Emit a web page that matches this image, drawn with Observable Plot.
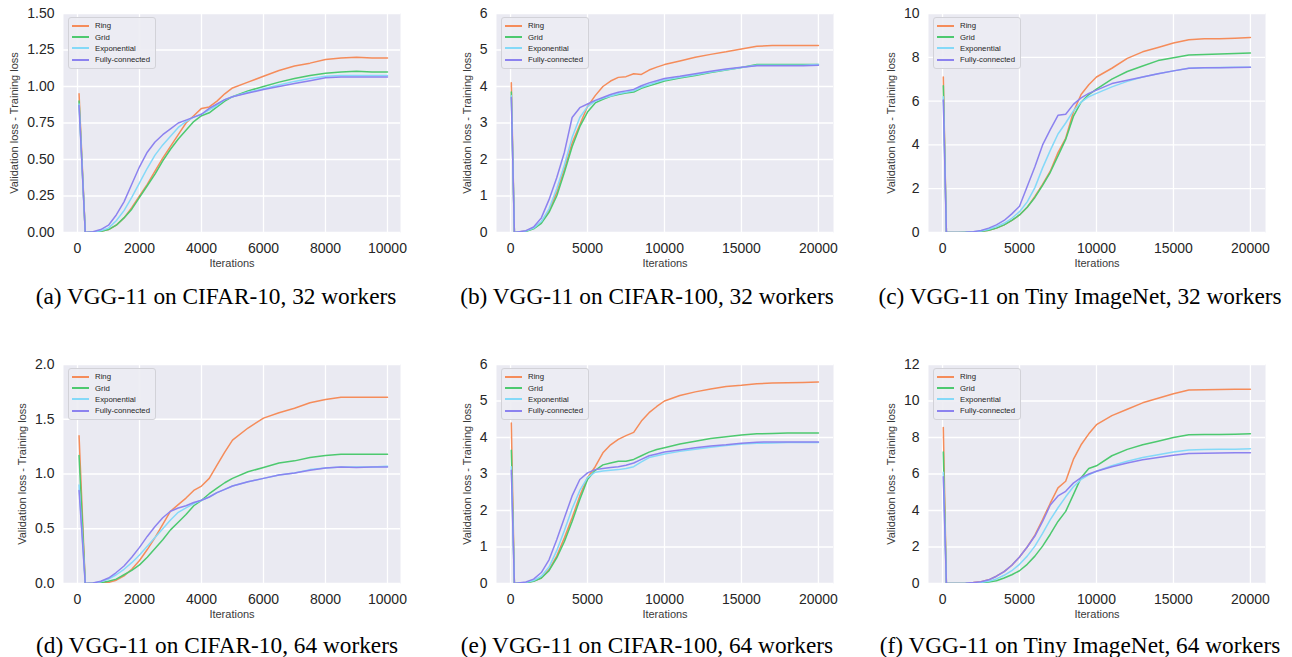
<!DOCTYPE html>
<html>
<head>
<meta charset="utf-8">
<script src="https://cdn.jsdelivr.net/npm/d3@7"></script>
<script src="https://cdn.jsdelivr.net/npm/@observablehq/plot@0.6"></script>
<style>
  html, body { margin: 0; padding: 0; background: #fff; }
  #root { position: relative; width: 1292px; height: 657px; overflow: hidden; }
  .panel { position: absolute; }
  .legend { position: absolute; box-sizing: border-box; border: 1px solid #d2d2d8; border-radius: 3px;
            background: rgba(236,236,243,0.9); padding: 2px 5px 2px 3px;
            font-family: "Liberation Sans", Arial, sans-serif; font-size: 7.8px; color: #262626; }
  .legend .row { height: 11.4px; display: flex; align-items: center; white-space: nowrap; }
  .legend .sw { display: inline-block; width: 17px; height: 0; border-top: 2px solid; margin-right: 6px; }
  .caption { position: absolute; width: 460px; text-align: center; font-family: "Liberation Serif", "Times New Roman", serif;
             font-size: 23.3px; line-height: 26px; color: #000; white-space: nowrap; }
</style>
</head>
<body>
<div id="root"></div>
<script>
// ---------------- data ----------------
const names = ["Ring", "Grid", "Exponential", "Fully-connected"];
const colors = ["#f58c5a", "#4dc96f", "#84d9f8", "#8c82ef"];

const captions = [
  "(a) VGG-11 on CIFAR-10, 32 workers",
  "(b) VGG-11 on CIFAR-100, 32 workers",
  "(c) VGG-11 on Tiny ImageNet, 32 workers",
  "(d) VGG-11 on CIFAR-10, 64 workers",
  "(e) VGG-11 on CIFAR-100, 64 workers",
  "(f) VGG-11 on Tiny ImageNet, 64 workers"
];

// iterations for CIFAR-10 runs (10000 iterations)
const itersShort = [50, 250, 500, 750, 1000, 1250, 1500, 1750, 2000, 2250, 2500, 2750, 3000, 3250, 3500, 3750, 4000, 4250, 4500, 4750, 5000, 5500, 6000, 6500, 7000, 7500, 8000, 8500, 9000, 9500, 10000];
// iterations for CIFAR-100 / Tiny ImageNet runs (20000 iterations)
const itersLong = [50, 250, 1000, 1500, 2000, 2500, 3000, 3500, 4000, 4500, 5000, 5500, 6000, 6500, 7000, 7500, 8000, 8500, 9000, 9500, 10000, 11000, 12000, 13000, 14000, 15000, 16000, 17000, 18000, 19000, 20000];

// (a) CIFAR-10, 32 workers
const aRing = [0.95, 0, 0.003, 0.008, 0.02, 0.05, 0.10, 0.17, 0.25, 0.33, 0.42, 0.51, 0.59, 0.67, 0.75, 0.80, 0.85, 0.86, 0.90, 0.95, 0.99, 1.03, 1.07, 1.11, 1.14, 1.16, 1.185, 1.195, 1.20, 1.195, 1.195];
const aGrid = [0.90, 0, 0.003, 0.008, 0.02, 0.05, 0.10, 0.16, 0.24, 0.32, 0.40, 0.49, 0.57, 0.64, 0.70, 0.76, 0.80, 0.82, 0.86, 0.90, 0.93, 0.97, 1.00, 1.03, 1.055, 1.075, 1.09, 1.10, 1.105, 1.10, 1.10];
const aExp  = [0.88, 0, 0.004, 0.012, 0.03, 0.08, 0.15, 0.24, 0.34, 0.44, 0.53, 0.60, 0.66, 0.72, 0.76, 0.79, 0.81, 0.84, 0.87, 0.91, 0.93, 0.96, 0.985, 1.01, 1.035, 1.055, 1.07, 1.075, 1.075, 1.075, 1.075];
const aFC   = [0.87, 0, 0.005, 0.02, 0.05, 0.12, 0.21, 0.33, 0.45, 0.55, 0.62, 0.67, 0.71, 0.75, 0.77, 0.79, 0.81, 0.85, 0.88, 0.91, 0.93, 0.955, 0.98, 1.00, 1.02, 1.04, 1.06, 1.065, 1.065, 1.065, 1.065];

// (b) CIFAR-100, 32 workers
const bRing = [4.10, 0, 0.04, 0.12, 0.28, 0.60, 1.10, 1.75, 2.45, 2.95, 3.45, 3.75, 4.00, 4.15, 4.25, 4.27, 4.35, 4.33, 4.45, 4.53, 4.60, 4.70, 4.80, 4.88, 4.95, 5.03, 5.10, 5.12, 5.12, 5.12, 5.12];
const bGrid = [3.85, 0, 0.03, 0.10, 0.25, 0.55, 1.00, 1.65, 2.35, 2.90, 3.30, 3.55, 3.65, 3.73, 3.78, 3.82, 3.85, 3.95, 4.02, 4.08, 4.15, 4.23, 4.30, 4.38, 4.45, 4.52, 4.60, 4.60, 4.60, 4.60, 4.60];
const bExp  = [3.75, 0, 0.04, 0.12, 0.30, 0.65, 1.20, 1.85, 2.60, 3.15, 3.45, 3.60, 3.68, 3.74, 3.80, 3.84, 3.88, 3.98, 4.05, 4.12, 4.18, 4.25, 4.32, 4.40, 4.46, 4.52, 4.58, 4.58, 4.58, 4.58, 4.60];
const bFC   = [3.70, 0, 0.05, 0.15, 0.40, 0.90, 1.50, 2.20, 3.15, 3.42, 3.52, 3.62, 3.70, 3.78, 3.84, 3.88, 3.92, 4.02, 4.10, 4.16, 4.22, 4.28, 4.35, 4.42, 4.48, 4.53, 4.57, 4.57, 4.57, 4.57, 4.58];

// (c) Tiny ImageNet, 32 workers
const cRing = [7.10, 0, 0.0, 0.01, 0.03, 0.05, 0.10, 0.20, 0.35, 0.55, 0.80, 1.15, 1.65, 2.20, 2.80, 3.65, 4.30, 5.50, 6.30, 6.75, 7.10, 7.50, 7.95, 8.25, 8.45, 8.65, 8.80, 8.85, 8.85, 8.87, 8.90];
const cGrid = [6.70, 0, 0.0, 0.01, 0.02, 0.05, 0.10, 0.20, 0.35, 0.55, 0.80, 1.15, 1.60, 2.15, 2.75, 3.50, 4.25, 5.30, 5.95, 6.30, 6.55, 7.00, 7.35, 7.60, 7.85, 7.98, 8.10, 8.13, 8.15, 8.17, 8.20];
const cExp  = [6.20, 0, 0.0, 0.01, 0.03, 0.07, 0.15, 0.27, 0.42, 0.65, 0.95, 1.40, 2.05, 2.95, 3.75, 4.50, 5.00, 5.55, 5.95, 6.20, 6.35, 6.65, 6.90, 7.10, 7.25, 7.38, 7.50, 7.52, 7.53, 7.54, 7.55];
const cFC   = [6.05, 0, 0.0, 0.01, 0.04, 0.09, 0.20, 0.35, 0.55, 0.85, 1.20, 2.10, 3.00, 4.00, 4.70, 5.35, 5.40, 5.85, 6.15, 6.35, 6.50, 6.80, 6.95, 7.10, 7.25, 7.38, 7.50, 7.52, 7.52, 7.53, 7.55];

// (d) CIFAR-10, 64 workers
const dRing = [1.35, 0, 0.002, 0.005, 0.01, 0.03, 0.07, 0.13, 0.21, 0.31, 0.42, 0.54, 0.66, 0.72, 0.78, 0.85, 0.89, 0.96, 1.08, 1.20, 1.31, 1.42, 1.51, 1.56, 1.60, 1.65, 1.68, 1.70, 1.70, 1.70, 1.70];
const dGrid = [1.17, 0, 0.003, 0.008, 0.02, 0.04, 0.08, 0.12, 0.17, 0.24, 0.32, 0.40, 0.49, 0.56, 0.63, 0.71, 0.76, 0.82, 0.87, 0.92, 0.96, 1.02, 1.06, 1.10, 1.12, 1.15, 1.17, 1.18, 1.18, 1.18, 1.18];
const dExp  = [0.90, 0, 0.004, 0.015, 0.04, 0.08, 0.13, 0.19, 0.26, 0.34, 0.42, 0.50, 0.58, 0.65, 0.69, 0.73, 0.76, 0.79, 0.83, 0.86, 0.89, 0.93, 0.96, 0.99, 1.01, 1.04, 1.055, 1.065, 1.065, 1.065, 1.07];
const dFC   = [0.85, 0, 0.005, 0.02, 0.05, 0.10, 0.16, 0.24, 0.33, 0.43, 0.52, 0.60, 0.66, 0.69, 0.71, 0.74, 0.76, 0.79, 0.83, 0.86, 0.89, 0.93, 0.96, 0.99, 1.01, 1.035, 1.055, 1.065, 1.06, 1.065, 1.065];

// (e) CIFAR-100, 64 workers
const eRing = [4.40, 0, 0.03, 0.07, 0.15, 0.38, 0.75, 1.25, 1.80, 2.40, 2.90, 3.20, 3.58, 3.80, 3.95, 4.05, 4.14, 4.45, 4.68, 4.85, 5.00, 5.15, 5.25, 5.33, 5.40, 5.43, 5.47, 5.49, 5.50, 5.51, 5.52];
const eGrid = [3.65, 0, 0.02, 0.06, 0.15, 0.35, 0.70, 1.15, 1.70, 2.30, 2.85, 3.10, 3.25, 3.30, 3.35, 3.35, 3.40, 3.50, 3.60, 3.67, 3.72, 3.82, 3.90, 3.97, 4.02, 4.07, 4.10, 4.11, 4.12, 4.12, 4.12];
const eExp  = [3.20, 0, 0.03, 0.08, 0.20, 0.45, 0.90, 1.45, 2.05, 2.55, 2.90, 3.05, 3.08, 3.10, 3.12, 3.15, 3.20, 3.33, 3.45, 3.50, 3.55, 3.62, 3.68, 3.73, 3.78, 3.82, 3.84, 3.85, 3.86, 3.86, 3.86];
const eFC   = [3.10, 0, 0.04, 0.12, 0.30, 0.65, 1.20, 1.80, 2.40, 2.85, 3.03, 3.12, 3.15, 3.18, 3.20, 3.24, 3.30, 3.40, 3.50, 3.55, 3.60, 3.66, 3.72, 3.77, 3.80, 3.84, 3.87, 3.88, 3.88, 3.88, 3.88];

// (f) Tiny ImageNet, 64 workers
const fRing = [8.55, 0, 0.0, 0.01, 0.05, 0.10, 0.20, 0.40, 0.65, 1.00, 1.45, 2.00, 2.65, 3.50, 4.40, 5.24, 5.60, 6.80, 7.60, 8.20, 8.70, 9.20, 9.55, 9.90, 10.15, 10.40, 10.60, 10.62, 10.63, 10.64, 10.65];
const fGrid = [7.20, 0, 0.0, 0.0, 0.02, 0.04, 0.08, 0.15, 0.30, 0.48, 0.70, 1.05, 1.50, 2.05, 2.70, 3.40, 3.95, 4.87, 5.80, 6.30, 6.45, 7.00, 7.35, 7.60, 7.80, 8.00, 8.15, 8.16, 8.17, 8.18, 8.20];
const fExp  = [6.10, 0, 0.0, 0.01, 0.03, 0.06, 0.12, 0.25, 0.45, 0.70, 1.05, 1.50, 2.05, 2.75, 3.50, 4.15, 4.75, 5.30, 5.70, 5.95, 6.15, 6.45, 6.70, 6.90, 7.05, 7.20, 7.32, 7.34, 7.35, 7.36, 7.38];
const fFC   = [5.85, 0, 0.0, 0.01, 0.05, 0.10, 0.20, 0.40, 0.65, 1.00, 1.45, 2.00, 2.60, 3.40, 4.30, 4.80, 5.05, 5.50, 5.80, 6.00, 6.15, 6.40, 6.60, 6.78, 6.90, 7.03, 7.12, 7.14, 7.15, 7.16, 7.17];

// tick values
const xTicksShort = [0, 2000, 4000, 6000, 8000, 10000];
const xTicksLong = [0, 5000, 10000, 15000, 20000];
const yTicksA = [0, 0.25, 0.5, 0.75, 1.0, 1.25, 1.5];
const yTicksB = [0, 1, 2, 3, 4, 5, 6];
const yTicksC = [0, 2, 4, 6, 8, 10];
const yTicksD = [0, 0.5, 1.0, 1.5, 2.0];
const yTicksE = [0, 1, 2, 3, 4, 5, 6];
const yTicksF = [0, 2, 4, 6, 8, 10, 12];

// ---------------- layout ----------------
const PW = 337, PH = 219, ML = 60, MT = 10, MR = 10, MB = 45;

const panels = [
  {left: 63,  top: 13,  x: itersShort, s: [aRing, aGrid, aExp, aFC], yd: [0, 1.5], xd: [-452, 10420], yt: yTicksA, xt: xTicksShort, yf: ".2f", ylab: -49, cap: 216, capY: 296},
  {left: 496, top: 13,  x: itersLong,  s: [bRing, bGrid, bExp, bFC], yd: [0, 6],   xd: [-912, 20980], yt: yTicksB, xt: xTicksLong,  yf: "d",   ylab: -29, cap: 647, capY: 296},
  {left: 928, top: 13,  x: itersLong,  s: [cRing, cGrid, cExp, cFC], yd: [0, 10],  xd: [-912, 20980], yt: yTicksC, xt: xTicksLong,  yf: "d",   ylab: -37, cap: 1080, capY: 296},
  {left: 63,  top: 364, x: itersShort, s: [dRing, dGrid, dExp, dFC], yd: [0, 2],   xd: [-452, 10420], yt: yTicksD, xt: xTicksShort, yf: ".1f", ylab: -41, cap: 217, capY: 645},
  {left: 496, top: 364, x: itersLong,  s: [eRing, eGrid, eExp, eFC], yd: [0, 6],   xd: [-912, 20980], yt: yTicksE, xt: xTicksLong,  yf: "d",   ylab: -29, cap: 647, capY: 645},
  {left: 928, top: 364, x: itersLong,  s: [fRing, fGrid, fExp, fFC], yd: [0, 12],  xd: [-912, 20980], yt: yTicksF, xt: xTicksLong,  yf: "d",   ylab: -37, cap: 1080, capY: 645}
];

const root = document.getElementById("root");
const txt = "#262626";

panels.forEach((p, pi) => {
  const data = [];
  p.s.forEach((vals, si) => vals.forEach((v, i) => data.push({it: p.x[i], loss: v, topo: names[si]})));

  const chart = Plot.plot({
    width: ML + PW + MR, height: MT + PH + MB,
    marginLeft: ML, marginRight: MR, marginTop: MT, marginBottom: MB,
    style: {fontFamily: "'Liberation Sans', Arial, sans-serif", background: "transparent", overflow: "visible", color: txt},
    x: {domain: p.xd, label: null},
    y: {domain: p.yd, label: null},
    color: {domain: names, range: colors},
    marks: [
      Plot.frame({fill: "#eaeaf2", stroke: "none"}),
      Plot.gridX(p.xt, {stroke: "#ffffff", strokeOpacity: 1, strokeWidth: 1.3}),
      Plot.gridY(p.yt, {stroke: "#ffffff", strokeOpacity: 1, strokeWidth: 1.3}),
      Plot.line(data, {x: "it", y: "loss", z: "topo", stroke: "topo", strokeWidth: 1.5, clip: true}),
      Plot.axisX(p.xt, {tickSize: 0, tickPadding: 11, fontSize: 14, tickFormat: d3.format("d"), fill: txt}),
      Plot.axisY(p.yt, {tickSize: 0, tickPadding: 9, fontSize: 14, tickFormat: d3.format(p.yf), fill: txt}),
      Plot.text(["Iterations"], {frameAnchor: "bottom", dy: 34, fontSize: 11, fill: "#3a3a3a", textAnchor: "middle"}),
      Plot.text(["Validation loss - Training loss"], {frameAnchor: "left", rotate: -90, dx: p.ylab, fontSize: 11, fill: "#3a3a3a", textAnchor: "middle", lineAnchor: "middle"})
    ]
  });
  const div = document.createElement("div");
  div.className = "panel";
  div.style.left = (p.left - ML) + "px";
  div.style.top = (p.top - MT) + "px";
  div.appendChild(chart);
  root.appendChild(div);

  // legend
  const lg = document.createElement("div");
  lg.className = "legend";
  lg.style.left = (p.left + 5) + "px";
  lg.style.top = (p.top + 4) + "px";
  names.forEach((n, i) => {
    const row = document.createElement("div");
    row.className = "row";
    const sw = document.createElement("span");
    sw.className = "sw";
    sw.style.borderTopColor = colors[i];
    row.appendChild(sw);
    row.appendChild(document.createTextNode(n));
    lg.appendChild(row);
  });
  root.appendChild(lg);

  // caption
  const cap = document.createElement("div");
  cap.className = "caption";
  cap.style.left = (p.cap - 230) + "px";
  cap.style.top = (p.capY - 13) + "px";
  cap.textContent = captions[pi];
  root.appendChild(cap);
});
</script>
</body>
</html>
